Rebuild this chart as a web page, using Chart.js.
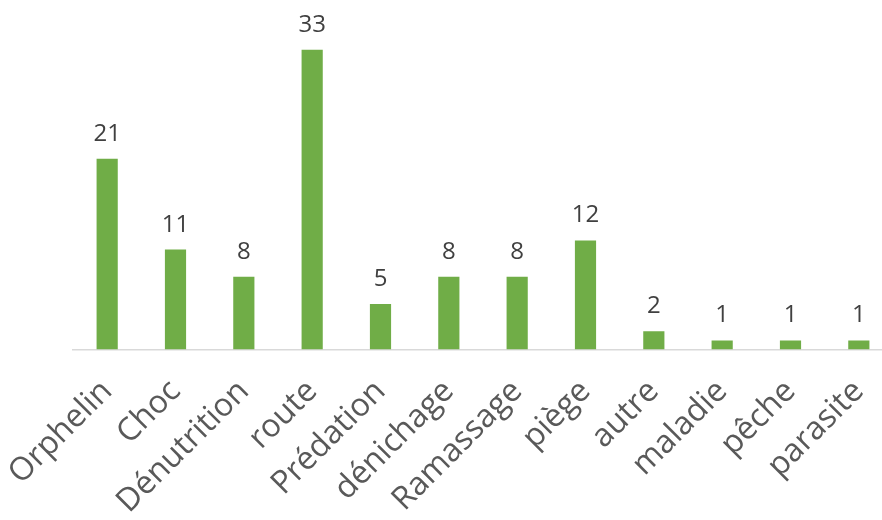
<!DOCTYPE html>
<html>
<head>
<meta charset="utf-8">
<script src="https://cdn.jsdelivr.net/npm/chart.js@4/dist/chart.umd.min.js"></script>
<style>
  html, body { margin: 0; padding: 0; background: #ffffff; overflow: hidden; }
  #wrap { width: 900px; height: 520px; position: relative; }
</style>
</head>
<body>
<div id="wrap"><canvas id="chart" width="900" height="520"></canvas></div>
<script>
// Causes d'accueil : nombre de cas par catégorie
const categories = ["Orphelin", "Choc", "Dénutrition", "route", "Prédation", "dénichage",
                    "Ramassage", "piège", "autre", "maladie", "pêche", "parasite"];
const counts = [21, 11, 8, 33, 5, 8, 8, 12, 2, 1, 1, 1];

const FONT = "'Open Sans', 'Noto Sans', sans-serif";

// Writes each bar's value just above it
const valueLabels = {
  id: 'valueLabels',
  afterDatasetsDraw(chart) {
    const ctx = chart.ctx;
    const meta = chart.getDatasetMeta(0);
    ctx.save();
    ctx.font = "24px " + FONT;
    ctx.fillStyle = '#404040';
    ctx.textAlign = 'center';
    ctx.textBaseline = 'alphabetic';
    meta.data.forEach((bar, i) => {
      ctx.fillText(String(counts[i]), bar.x, bar.y - 18);
    });
    ctx.restore();
  }
};

new Chart(document.getElementById('chart'), {
  type: 'bar',
  data: {
    labels: categories,
    datasets: [{
      data: counts,
      backgroundColor: '#70AD47',
      borderWidth: 0,
      barPercentage: 1,
      categoryPercentage: 0.31
    }]
  },
  options: {
    responsive: false,
    animation: false,
    layout: { padding: { left: 73, right: 7, top: 31.5, bottom: 0 } },
    plugins: { legend: { display: false }, tooltip: { enabled: false } },
    scales: {
      x: {
        grid: { display: false },
        border: { display: true, color: '#d9d9d9', width: 1.5 },
        ticks: {
          color: '#595959',
          font: { family: FONT, size: 32 },
          minRotation: 45,
          maxRotation: 45,
          padding: 15,
          autoSkip: false
        },
        afterFit(scale) {
          // fixed axis band; long rotated labels may run into the left margin
          scale.height = 170.5;
          scale.paddingLeft = 0;
          scale.paddingRight = 0;
        }
      },
      y: {
        display: false,
        min: 0,
        max: 35
      }
    }
  },
  plugins: [valueLabels]
});
</script>
</body>
</html>
